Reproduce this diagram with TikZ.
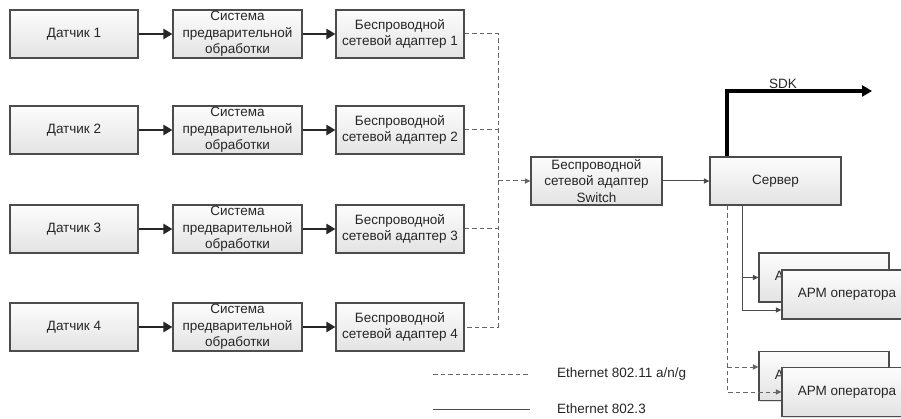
\documentclass[tikz,border=0pt]{standalone}
\usepackage{fontspec}
\setmainfont{Liberation Sans}
\usetikzlibrary{arrows.meta,calc,shadows}
\begin{document}
\begin{tikzpicture}[x=1pt,y=-1pt,
  box/.style={draw=black!70,line width=1.1pt,top color=gray!2,bottom color=gray!22,
    text=black!85,align=center,font=\fontsize{13.5}{16.5}\selectfont,inner sep=1pt,
    drop shadow={opacity=0.25,shadow xshift=1pt,shadow yshift=-1.2pt}},
  thickarrow/.style={line width=2.8pt,black!85,-{Triangle[length=9pt,width=10pt]}},
  sdkarrow/.style={line width=3.6pt,black,-{Triangle[length=10pt,width=11pt]}},
  thinline/.style={line width=1pt,black!70},
  thinarrow/.style={thinline,-{Triangle[length=5.5pt,width=5pt]}},
  dashline/.style={line width=1pt,black!60,dash pattern=on 4.5pt off 3pt},
  dasharrow/.style={dashline,-{Triangle[length=5.5pt,width=5pt]}},
  lbl/.style={text=black!85,font=\fontsize{13.5}{15}\selectfont,anchor=west,inner sep=0pt}
]
\useasboundingbox (0,0) rectangle (901,419);
\foreach \i/\y in {1/34,2/130,3/229,4/327}{
  \node[box,minimum width=128pt,minimum height=48pt] (s\i) at (74,\y) {Датчик \i};
  \node[box,minimum width=129pt,minimum height=48pt] (p\i) at (237.5,\y) {Система\\предварительной\\обработки};
  \node[box,minimum width=128pt,minimum height=48pt] (a\i) at (400,\y) {Беспроводной\\сетевой адаптер \i};
  \draw[thickarrow] (s\i.east) -- (p\i.west);
  \draw[thickarrow] (p\i.east) -- (a\i.west);
}
\node[box,minimum width=131pt,minimum height=48pt] (sw) at (596.5,181) {Беспроводной\\сетевой адаптер\\Switch};
\node[box,minimum width=131pt,minimum height=48pt] (srv) at (775.5,181) {Сервер};
\node[box,minimum width=130pt,minimum height=49pt] (arm1b) at (824,277.5) {АРМ оператора};
\node[box,minimum width=130pt,minimum height=49pt] (arm1f) at (847,294.5) {АРМ оператора};
\node[box,minimum width=130pt,minimum height=49pt] (arm2b) at (824,376) {АРМ оператора};
\node[box,minimum width=130pt,minimum height=49pt] (arm2f) at (847,392) {АРМ оператора};
% wireless dashed collection
\coordinate (jt) at (498,34);
\coordinate (jb) at (498,327);
\draw[dashline] (a1.east) -- (jt) -- (jb) -- (a4.east);
\draw[dashline] (a2.east) -- (a2.east -| jt);
\draw[dashline] (a3.east) -- (a3.east -| jt);
\draw[dasharrow] (sw.west -| jt) -- (sw.west);
\draw[thinarrow] (sw.east) -- (srv.west);
% SDK
\coordinate (sdkend) at (872,91);
\draw[sdkarrow] ([xshift=-48.5pt]srv.north) |- (sdkend);
\node[text=black!85,font=\fontsize{13.5}{15}\selectfont,anchor=south,inner sep=1pt] (sdk) at (783,90) {SDK};
% server to operators
\draw[thinarrow] ([xshift=-33.5pt]srv.south) |- ([yshift=-15.5pt]arm1f.west);
\draw[thinarrow] ([xshift=-33.5pt]srv.south |- arm1b.west) -- (arm1b.west);
\draw[dasharrow] ([xshift=-48.5pt]srv.south) |- (arm2f.west);
\draw[dasharrow] ([xshift=-48.5pt,yshift=9pt]srv.south |- arm2b.west) -- ([yshift=9pt]arm2b.west);
% legend
\coordinate (l1a) at (433,374); \coordinate (l1b) at (530,374);
\coordinate (l2a) at (433,409); \coordinate (l2b) at (530,409);
\draw[dashline] (l1a) -- (l1b);
\draw[thinline] (l2a) -- (l2b);
\node[lbl] (t1) at (557,374) {Ethernet 802.11 a/n/g};
\node[lbl] (t2) at (557,409) {Ethernet 802.3};
\end{tikzpicture}
\end{document}
